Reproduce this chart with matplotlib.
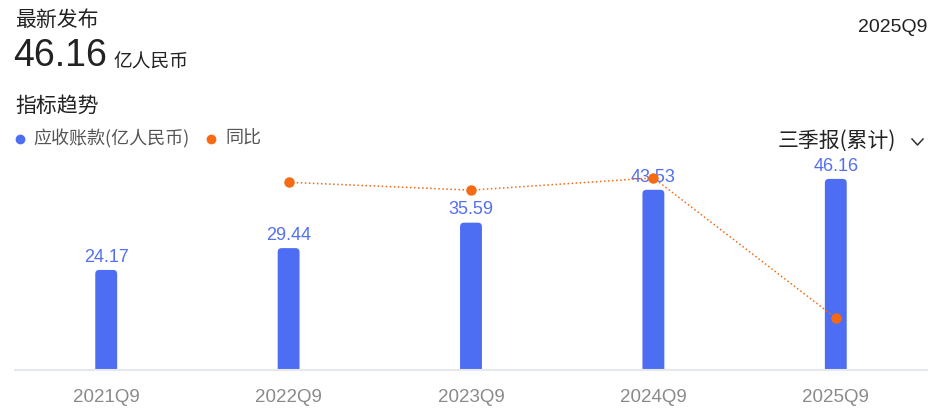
import numpy as np
import matplotlib
matplotlib.use('Agg')
import matplotlib.pyplot as plt
from matplotlib.lines import Line2D
from matplotlib.patches import FancyBboxPatch

# data
periods = ["2021Q9", "2022Q9", "2023Q9", "2024Q9", "2025Q9"]
receivables = [24.17, 29.44, 35.59, 43.53, 46.16]      # 亿人民币
yoy = [np.nan, 21.80, 20.89, 22.31, 6.04]               # %

BAR_C = '#4d6ef2'
LBL_C = '#5470f0'
LINE_C = '#f56a12'
CJK = ['Noto Sans CJK SC', 'DejaVu Sans']
LAT = ['Liberation Sans', 'Noto Sans CJK SC']

W, H = 937, 413
fig = plt.figure(figsize=(W / 100, H / 100), dpi=100)
fig.patch.set_facecolor('white')


def fx(px):
    return px / W


def fy(py):
    return 1 - py / H


# ── header texts ──────────────────────────────────────────────
fig.text(fx(15), fy(20), "最新发布", family=CJK, fontsize=15, color='#222222', va='center')
fig.text(fx(13), fy(56), "46.16", family=LAT, fontsize=27, color='#222222', va='center')
fig.text(fx(113), fy(62), "亿人民币", family=CJK, fontsize=13.5, color='#222222', va='center')
fig.text(fx(927), fy(28), "2025Q9", family=LAT, fontsize=14, color='#222222', va='center', ha='right')
fig.text(fx(15), fy(106), "指标趋势", family=CJK, fontsize=15, color='#222222', va='center')

# legend
fig.add_artist(Line2D([fx(20)], [fy(139)], marker='o', ms=6, color=BAR_C, linestyle='none'))
fig.text(fx(33), fy(139), "应收账款(亿人民币)", family=CJK, fontsize=13, color='#555555', va='center')
fig.add_artist(Line2D([fx(211)], [fy(139)], marker='o', ms=6, color=LINE_C, linestyle='none'))
fig.text(fx(225), fy(139), "同比", family=CJK, fontsize=13, color='#555555', va='center')

# report selector + chevron
fig.text(fx(896), fy(141), "三季报(累计)", family=CJK, fontsize=15, color='#222222', va='center', ha='right')
fig.add_artist(Line2D([fx(912), fx(917.5), fx(923)], [fy(139), fy(145), fy(139)],
                      color='#333333', lw=1.1))

# ── chart ─────────────────────────────────────────────────────
ax = fig.add_axes([fx(15), fy(370), fx(927) - fx(15), (370 - 160) / H])
x = np.arange(len(periods))
bars = ax.bar(x, receivables, width=0.12, color=BAR_C, zorder=2)

# swap the square bars for ones with rounded tops (bottom pushed below the axis)
px_x = (927 - 15) / len(periods)   # pixels per x unit
px_y = 4.14                        # pixels per y unit
r = 4 / px_x
for b in bars:
    b.set_visible(False)
    rb = FancyBboxPatch((b.get_x(), -2), b.get_width(), b.get_height() + 2,
                        boxstyle=f"round,pad=0,rounding_size={r}",
                        mutation_aspect=px_x / px_y, facecolor=BAR_C,
                        edgecolor='none', zorder=2)
    ax.add_patch(rb)

for xi, v in zip(x, receivables):
    ax.annotate(f"{v:.2f}", (xi, v), xytext=(0, 3), textcoords='offset points',
                ha='center', va='bottom', family=LAT, fontsize=13, color=LBL_C, zorder=3)

ax.set_xlim(-0.5, len(periods) - 0.5)
ax.set_ylim(0, 210 / px_y)
ax.set_yticks([])
ax.set_xticks(x)
ax.set_xticklabels(periods, family=LAT, fontsize=13.5, color='#8a8a8a')
ax.tick_params(axis='x', length=0, pad=14)
for side in ['top', 'right', 'left']:
    ax.spines[side].set_visible(False)
ax.spines['bottom'].set_color('#e6e8ee')
ax.spines['bottom'].set_linewidth(1.5)
ax.set_facecolor('none')

ax2 = ax.twinx()
ax2.plot(x, yoy, color=LINE_C, linestyle=':', lw=1.1, marker='o', ms=6.5, zorder=4)
ax2.set_ylim(0, 210 / 8.61)
ax2.set_yticks([])
for side in ['top', 'right', 'left', 'bottom']:
    ax2.spines[side].set_visible(False)

fig.savefig('out.png', dpi=100, facecolor='white')
